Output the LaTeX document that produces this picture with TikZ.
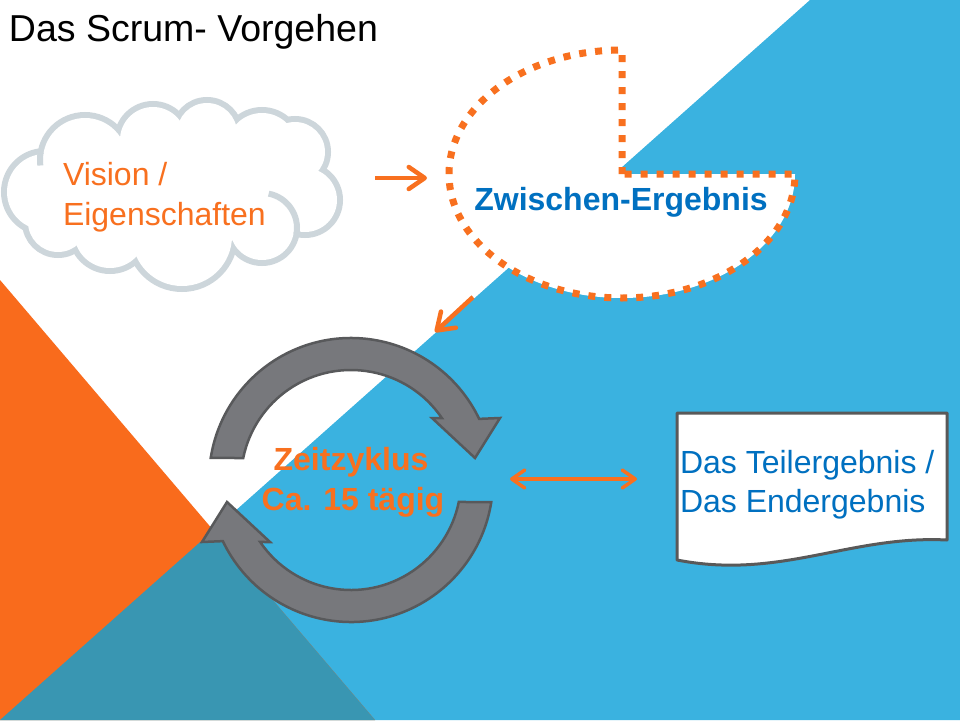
\documentclass[tikz,border=0pt]{standalone}
\usepackage{fontspec}
\setmainfont{Liberation Sans}
\usetikzlibrary{arrows.meta}
\definecolor{bgblue}{HTML}{3AB2E0}
\definecolor{bgorange}{HTML}{F96B1C}
\definecolor{bgteal}{HTML}{3996B2}
\definecolor{scorange}{HTML}{F8701F}
\definecolor{scblue}{HTML}{0070C0}
\definecolor{cloudgray}{HTML}{CDD6DB}
\definecolor{cycgray}{HTML}{77787C}
\definecolor{cycedge}{HTML}{58595B}
\definecolor{docedge}{HTML}{595959}
\begin{document}
\begin{tikzpicture}[x=1pt,y=-1pt,
  lbl/.style={inner sep=0pt,outer sep=0pt},
  bigtext/.style={font=\fontsize{32}{38}\selectfont},
  boldtext/.style={font=\fontsize{32}{38}\selectfont\bfseries},
  oarrow/.style={draw=scorange,line width=4.5pt,-{Straight Barb[length=16pt,width=22pt,round]}},
  darrow/.style={draw=scorange,line width=3.5pt,{Straight Barb[length=13pt,width=18pt,round]}-{Straight Barb[length=13pt,width=18pt,round]}},
  cycarrow/.style={fill=cycgray,draw=cycedge,line width=2.5pt},
  dotted pie/.style={draw=scorange,line width=7pt,dash pattern=on 7pt off 9pt,fill=white},
  docshape/.style={fill=white,draw=docedge,line width=3pt,line join=round},
  cloudstub/.style={draw=cloudgray,line width=6pt}]
\useasboundingbox (0,0) rectangle (960,720);
% background
\fill[white] (0,0) rectangle (960,720);
\fill[bgblue] (810,0) -- (960,0) -- (960,720) -- (0,720) -- cycle;
\fill[bgorange] (0,280) -- (375,720) -- (0,720) -- cycle;
\fill[bgteal] (213.4,530.3) -- (375,720) -- (0,720) -- cycle;
% cloud
\foreach \cx/\cy/\r in {45/192/38,85/160/42,153/140/33,207/133/30,262/148/35,295/152/30,305/200/32,262/228/32,182/236/50,110/232/36,58/222/30}
  \draw[cloudgray,line width=12pt] (\cx,\cy) circle[radius=\r];
\foreach \cx/\cy/\r in {45/192/38,85/160/42,153/140/33,207/133/30,262/148/35,295/152/30,305/200/32,262/228/32,182/236/50,110/232/36,58/222/30}
  \fill[white] (\cx,\cy) circle[radius=\r];
\fill[white] (180,195) ellipse[x radius=125,y radius=50];
\draw[cloudstub] ([shift={(262,228)}]281:35) arc[start angle=281,end angle=370,radius=35];
\draw[cloudstub] ([shift={(85,160)}]190:45) arc[start angle=190,end angle=173,radius=45];
% pie
\draw[dotted pie] (622,174) -- (622,50) arc[start angle=270,end angle=0,x radius=173,y radius=124] -- cycle;
% arrows
\coordinate (a1s) at (375,178);
\coordinate (a1e) at (427,178);
\draw[oarrow] (a1s) -- (a1e);
\coordinate (a2s) at (473,297);
\coordinate (a2e) at (435,332);
\draw[oarrow] (a2s) -- (a2e);
\coordinate (a3s) at (510,479);
\coordinate (a3e) at (637,479);
\draw[darrow] (a3s) -- (a3e);
% cycle arrows
\path[cycarrow] ([shift={(351,480)}]189:142) arc[start angle=189,end angle=334.5,radius=142] -- (500,418) -- (475,458) -- (432,418) -- ([shift={(351,480)}]325.7:110) arc[start angle=325.7,end angle=191.5,radius=110] -- cycle;
\path[cycarrow] ([shift={(351,480)}]9:142) arc[start angle=9,end angle=154.5,radius=142] -- (202,542) -- (227,502) -- (270,542) -- ([shift={(351,480)}]145.7:110) arc[start angle=145.7,end angle=11.5,radius=110] -- cycle;
% document
\draw[docshape] (677,413) -- (947,413) -- (947,540) .. controls (850,535) and (780,580) .. (677,560) -- cycle;
% texts
\node[lbl,anchor=base west,font=\fontsize{37.5}{44}\selectfont] (title) at (9,41) {Das Scrum- Vorgehen};
\node[lbl,bigtext,anchor=base west,text=scorange] (vis1) at (63,185) {Vision /};
\node[lbl,bigtext,anchor=base west,text=scorange] (vis2) at (63,225) {Eigenschaften};
\node[lbl,boldtext,anchor=base,text=scblue] (zwi) at (621,210) {Zwischen-Ergebnis};
\node[lbl,boldtext,anchor=base,text=scorange] (zeit1) at (351,470) {Zeitzyklus};
\node[lbl,boldtext,anchor=base,text=scorange] (zeit2) at (353,510) {Ca. 15 tägig};
\node[lbl,bigtext,anchor=base west,text=scblue] (doc1) at (680,473) {Das Teilergebnis /};
\node[lbl,bigtext,anchor=base west,text=scblue] (doc2) at (680,512) {Das Endergebnis};
\end{tikzpicture}
\end{document}
